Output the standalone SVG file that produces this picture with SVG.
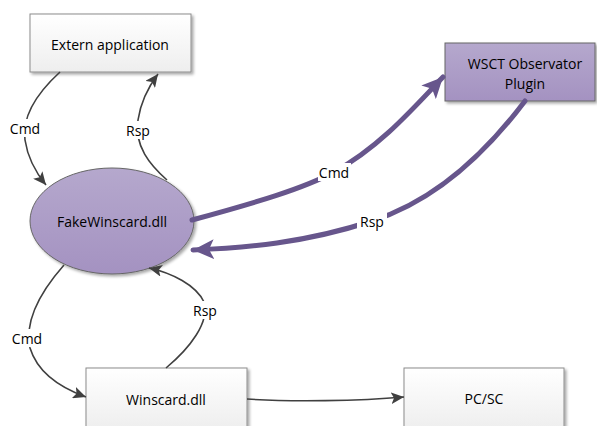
<svg xmlns="http://www.w3.org/2000/svg" width="597" height="426" viewBox="0 0 597 426">
<defs>
<linearGradient id="gBox" x1="0" y1="0" x2="0" y2="1"><stop offset="0" stop-color="#ffffff"/><stop offset="1" stop-color="#eeeeee"/></linearGradient>
<linearGradient id="gPur" x1="0" y1="0" x2="0" y2="1"><stop offset="0" stop-color="#b5a8cd"/><stop offset="1" stop-color="#a492c1"/></linearGradient>
<filter id="sh" x="-10%" y="-10%" width="130%" height="130%"><feGaussianBlur in="SourceAlpha" stdDeviation="1.5"/><feOffset dx="2" dy="2"/><feComponentTransfer><feFuncA type="linear" slope="0.35"/></feComponentTransfer><feMerge><feMergeNode/><feMergeNode in="SourceGraphic"/></feMerge></filter>
<marker id="aD" markerUnits="userSpaceOnUse" markerWidth="14" markerHeight="12" refX="13" refY="6" orient="auto"><path d="M0,0 L13,6 L0,12 L3,6 z" fill="#404040"/></marker>
<marker id="aP" markerUnits="userSpaceOnUse" markerWidth="22" markerHeight="20" refX="21" refY="10" orient="auto"><path d="M0,0 L21,10 L0,20 L5,10 z" fill="#67568c"/></marker>
</defs>
<style>
.box{fill:url(#gBox);stroke:#8c8c8c;stroke-width:1}
.pur{fill:url(#gPur);stroke:#666666;stroke-width:1}
.t{font-family:"Open Sans","Liberation Sans",sans-serif;font-size:14px;fill:#000;text-anchor:middle;dominant-baseline:central}
.c{fill:none;stroke:#404040;stroke-width:1.6}
.cp{fill:none;stroke:#67568c;stroke-width:5;stroke-linecap:round}
.lb{fill:#ffffff}
</style>
<rect width="597" height="426" fill="#ffffff"/>
<g id="extern"><rect class="box" x="30" y="14" width="161" height="58" filter="url(#sh)"/><text class="t" x="110" y="44">Extern application</text></g>
<g id="wsct"><rect class="pur" x="445" y="43" width="150" height="58" filter="url(#sh)"/><text class="t" x="525" y="63">WSCT Observator</text><text class="t" x="525" y="83">Plugin</text></g>
<g id="fake"><ellipse class="pur" cx="112" cy="221" rx="82" ry="53" filter="url(#sh)"/><text class="t" x="112" y="221">FakeWinscard.dll</text></g>
<g id="winscard"><rect class="box" x="86" y="368" width="161" height="62" filter="url(#sh)"/><text class="t" x="166" y="399">Winscard.dll</text></g>
<g id="pcsc"><rect class="box" x="404" y="368" width="160" height="62" filter="url(#sh)"/><text class="t" x="484" y="398">PC/SC</text></g>
<g id="connectors">
<path class="c" d="M60,72 C36,94 22,118 25,140 C28,160 37,174 46,185" marker-end="url(#aD)"/>
<path class="c" d="M167,180 C150,165 134,146 138,120 C141,100 149,86 158,74" marker-end="url(#aD)"/>
<path class="c" d="M64,265 C42,290 24,320 30,348 C38,374 64,389 86,397" marker-end="url(#aD)"/>
<path class="c" d="M166,368 C190,348 210,322 204,302 C196,285 172,273 149,268" marker-end="url(#aD)"/>
<path class="c" d="M247,399 C290,402 360,401 404,397" marker-end="url(#aD)"/>
<path class="cp" d="M192,220 C255,203 305,188 334,172 C378,148 410,112 443,77" marker-end="url(#aP)"/>
<path class="cp" d="M525,101 C482,158 432,202 372,221 C305,243 245,248 193,250" marker-end="url(#aP)"/>
<rect class="lb" x="9" y="119" width="33" height="18"/><text class="t" x="25" y="128">Cmd</text>
<rect class="lb" x="123" y="121" width="30" height="18"/><text class="t" x="138" y="130">Rsp</text>
<rect class="lb" x="11" y="329" width="33" height="18"/><text class="t" x="27" y="338">Cmd</text>
<rect class="lb" x="190" y="301" width="30" height="18"/><text class="t" x="205" y="310">Rsp</text>
<rect class="lb" x="318" y="163" width="33" height="18"/><text class="t" x="334" y="172">Cmd</text>
<rect class="lb" x="357" y="212" width="30" height="18"/><text class="t" x="372" y="221">Rsp</text>
</g>
</svg>
